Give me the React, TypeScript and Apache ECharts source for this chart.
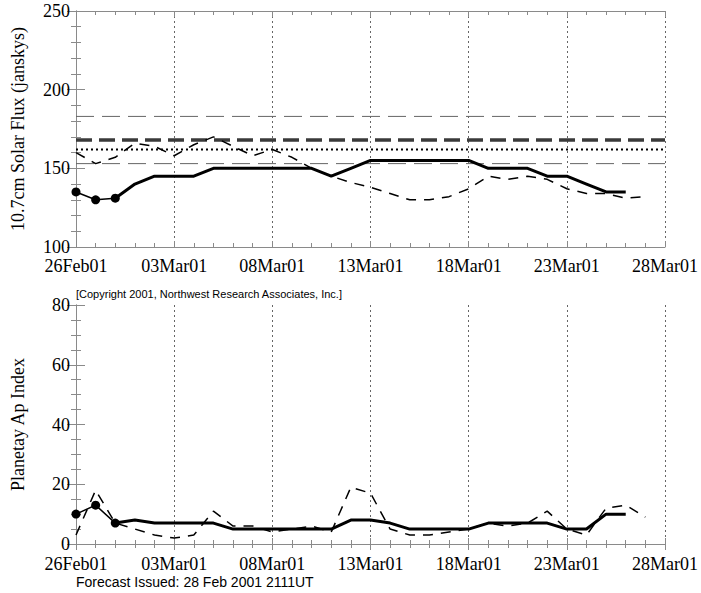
import React, { useEffect, useRef } from "react";
import * as echarts from "echarts";

// x positions are day offsets from 26Feb01
const dateLabels = ["26Feb01", "03Mar01", "08Mar01", "13Mar01", "18Mar01", "23Mar01", "28Mar01"];

// Solar flux (top panel)
const fluxObserved = [135, 130, 131]; // days 0..2
const fluxForecastStart = 2;
const fluxForecast = [131, 140, 145, 145, 145, 150, 150, 150, 150, 150, 150, 145, 150, 155, 155, 155, 155, 155, 155, 150, 150, 150, 145, 145, 140, 135, 135];
const fluxDashed = [160, 153, 157, 166, 164, 158, 165, 170, 164, 158, 162, 157, 150, 145, 141, 138, 134, 130, 130, 132, 137, 145, 143, 145, 143, 137, 134, 134, 131, 132];
const fluxThinRefs = [183, 153];
const fluxMeanRef = [168];
const fluxDottedRef = [162];

// Ap index (bottom panel)
const apObserved = [10, 13, 7]; // days 0..2
const apForecastStart = 2;
const apForecast = [7, 8, 7, 7, 7, 7, 5, 5, 5, 5, 5, 5, 8, 8, 7, 5, 5, 5, 5, 7, 7, 7, 7, 5, 5, 10, 10];
const apDashed = [3, 18, 7, 5, 3, 2, 3, 11, 6, 6, 4, 5, 6, 4, 19, 17, 5, 3, 3, 4, 5, 7, 6, 7, 11, 5, 3, 12, 13, 9];

const DAY_MAX = 30;
const SERIF = "Liberation Serif";
const SANS = "Liberation Sans";
const FRAME = "#8a8a8a";

const pts = (vals: number[], start = 0) => vals.map((v, i) => [start + i, v]);
const hline = (v: number) => [[0, v], [DAY_MAX, v]];

export default function App() {
  const ref = useRef<HTMLDivElement>(null);
  useEffect(() => {
    if (!ref.current) return;
    const chart = echarts.init(ref.current, undefined, { renderer: "svg" });

    const xBase = (gridIndex: number, position: "bottom" | "top", labels: boolean, margin = 9) => ({
      type: "value" as const,
      gridIndex,
      position,
      min: 0,
      max: DAY_MAX,
      interval: 5,
      axisLine: { show: true, lineStyle: { color: FRAME, width: 1 } },
      axisTick: { show: true, inside: true, length: 6, lineStyle: { color: FRAME } },
      minorTick: { show: true, splitNumber: 5, length: 4, lineStyle: { color: FRAME } },
      axisLabel: {
        show: labels,
        margin,
        color: "#000",
        fontFamily: SERIF,
        fontSize: 18,
        formatter: (v: number) => dateLabels[Math.round(v / 5)] ?? "",
      },
      splitLine: labels
        ? { show: true, lineStyle: { color: "#666", type: [2, 3], width: 1 } }
        : { show: false },
    });

    const yBase = (
      gridIndex: number,
      position: "left" | "right",
      min: number,
      max: number,
      interval: number,
      minorSplit: number,
      name: string
    ) => ({
      type: "value" as const,
      gridIndex,
      position,
      min,
      max,
      interval,
      name: position === "left" ? name : "",
      nameLocation: "middle" as const,
      nameGap: 49,
      nameRotate: 90,
      nameTextStyle: { fontFamily: SERIF, fontSize: 18, color: "#000" },
      axisLine: { show: true, lineStyle: { color: FRAME, width: 1 } },
      axisTick: { show: true, inside: true, length: 9, lineStyle: { color: FRAME } },
      minorTick: { show: true, splitNumber: minorSplit, length: 5, lineStyle: { color: FRAME } },
      axisLabel: {
        show: position === "left",
        margin: 6,
        color: "#000",
        fontFamily: SERIF,
        fontSize: 18,
      },
      splitLine: { show: false },
    });

    const line = (
      data: number[][],
      xi: number,
      yi: number,
      lineStyle: any,
      extra: any = {}
    ) => ({
      type: "line" as const,
      xAxisIndex: xi,
      yAxisIndex: yi,
      data,
      showSymbol: false,
      symbol: "none",
      lineStyle,
      silent: true,
      z: 3,
      ...extra,
    });

    const series: any[] = [];
    fluxThinRefs.forEach((v) =>
      series.push(line(hline(v), 0, 0, { color: "#666", width: 1, type: [18, 8] }))
    );
    fluxMeanRef.forEach((v) =>
      series.push(line(hline(v), 0, 0, { color: "#3a3a3a", width: 3.5, type: [16, 7] }))
    );
    fluxDottedRef.forEach((v) =>
      series.push(line(hline(v), 0, 0, { color: "#000", width: 2, type: [2, 3] }))
    );
    series.push(line(pts(fluxDashed), 0, 0, { color: "#000", width: 1.5, type: [10, 8] }));
    series.push(line(pts(fluxForecast, fluxForecastStart), 0, 0, { color: "#000", width: 3 }));
    series.push(
      line(pts(fluxObserved), 0, 0, { color: "#000", width: 1.5 }, {
        showSymbol: true,
        symbol: "circle",
        symbolSize: 9,
        itemStyle: { color: "#000" },
        z: 5,
      })
    );

    series.push(line(pts(apDashed), 2, 2, { color: "#000", width: 1.5, type: [10, 8] }));
    series.push(line(pts(apForecast, apForecastStart), 2, 2, { color: "#000", width: 3 }));
    series.push(
      line(pts(apObserved), 2, 2, { color: "#000", width: 1.5 }, {
        showSymbol: true,
        symbol: "circle",
        symbolSize: 9,
        itemStyle: { color: "#000" },
        z: 5,
      })
    );

    chart.setOption({
      animation: false,
      backgroundColor: "#fff",
      grid: [
        { left: 76, top: 11, width: 591, height: 236 },
        { left: 76, top: 305, width: 591, height: 239 },
      ],
      xAxis: [
        xBase(0, "bottom", true, 10),
        xBase(0, "top", false),
        xBase(1, "bottom", true, 11),
        xBase(1, "top", false),
      ],
      yAxis: [
        yBase(0, "left", 100, 250, 50, 5, "10.7cm Solar Flux (janskys)"),
        yBase(0, "right", 100, 250, 50, 5, ""),
        yBase(1, "left", 0, 80, 20, 4, "Planetay Ap Index"),
        yBase(1, "right", 0, 80, 20, 4, ""),
      ],
      series,
      graphic: [
        {
          type: "text",
          left: 76,
          top: 288,
          style: {
            text: "[Copyright 2001, Northwest Research Associates, Inc.]",
            fontFamily: SANS,
            fontSize: 11,
            fill: "#000",
          },
        },
        {
          type: "text",
          left: 76,
          top: 575,
          style: {
            text: "Forecast Issued: 28 Feb 2001 2111UT",
            fontFamily: SANS,
            fontSize: 14,
            fill: "#000",
          },
        },
      ],
    });
    return () => chart.dispose();
  }, []);

  return (
    <div
      ref={ref}
      style={{ position: "absolute", left: 0, top: 0, width: 701, height: 593, background: "#fff" }}
    />
  );
}
